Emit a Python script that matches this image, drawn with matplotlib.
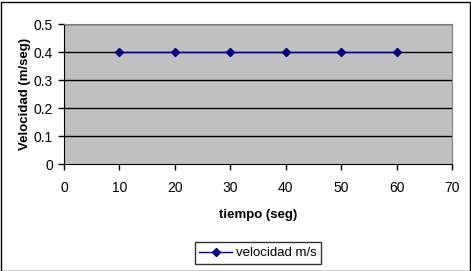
import matplotlib.pyplot as plt
from matplotlib.patches import Rectangle

tiempo = [10, 20, 30, 40, 50, 60]
velocidad = [0.4, 0.4, 0.4, 0.4, 0.4, 0.4]
xticks = [0, 10, 20, 30, 40, 50, 60, 70]
yticks = [0, 0.1, 0.2, 0.3, 0.4, 0.5]

plt.rcParams['font.family'] = ['Liberation Sans', 'DejaVu Sans']

fig = plt.figure(figsize=(4.71, 2.71), dpi=100)
ax = fig.add_axes([64/471, 1-164/271, 388/471, 140/271])
ax.set_facecolor('#c0c0c0')

for y in yticks[1:]:
    ax.axhline(y, color='black', lw=1, zorder=1)

ax.plot(tiempo, velocidad, color='#000080', lw=1, marker='D', ms=4.5,
        markerfacecolor='#000080', markeredgecolor='#000080',
        label='velocidad m/s', zorder=3)

ax.set_xlim(0, 70)
ax.set_ylim(0, 0.5)
ax.set_xticks(xticks)
ax.set_yticks(yticks)
ax.set_yticklabels(['0', '0.1', '0.2', '0.3', '0.4', '0.5'])
ax.tick_params(direction='out', length=4, width=1, labelsize=10, colors='black', pad=4)
ax.tick_params(axis='x', pad=8)

for side in ['top', 'right']:
    ax.spines[side].set_color('#808080')
for side in ['left', 'bottom']:
    ax.spines[side].set_color('black')

ax.set_xlabel('tiempo (seg)', fontsize=9.5, fontweight='bold', labelpad=10)
ax.set_ylabel('Velocidad (m/seg)', fontsize=9.5, fontweight='bold', labelpad=2)

leg = fig.legend(loc='center', bbox_to_anchor=(258/471, 1-253/271), fontsize=9.5,
                 frameon=True, fancybox=False, edgecolor='black',
                 handlelength=2.5, borderpad=0.35, handletextpad=0.3)
leg.get_frame().set_linewidth(1)

fig.patches.append(Rectangle((0.5/471, 0.5/271), 469/471, 269/271, transform=fig.transFigure,
                             fill=False, edgecolor='black', lw=1))

fig.savefig('out.png', dpi=100)
